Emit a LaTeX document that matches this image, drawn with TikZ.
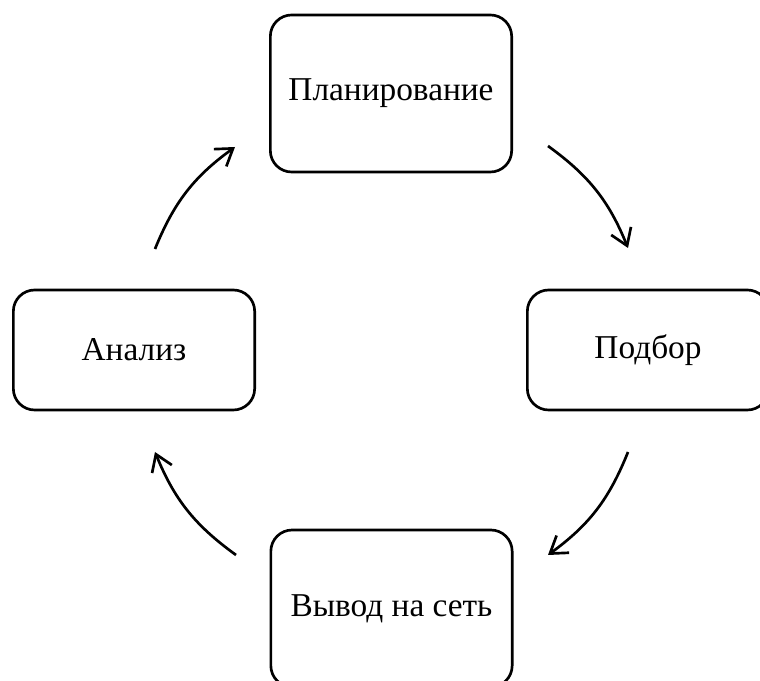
\documentclass[tikz,border=0pt]{standalone}
\usepackage{fontspec}
\setmainfont{Liberation Serif}
\usetikzlibrary{arrows.meta}
\tikzset{
  stage/.style={draw, line width=2pt, rounded corners=16pt, minimum width=181pt, font=\fontsize{25}{30}\selectfont},
  tall/.style={stage, minimum height=117.75pt},
  wide/.style={stage, minimum height=90pt},
  cyc/.style={line width=2pt, -{Straight Barb[length=12pt,width=16pt]}},
}
\begin{document}
\begin{tikzpicture}[x=0.75pt,y=0.75pt]
  \useasboundingbox (0,0) rectangle (760,681);
  \node[tall] (plan) at (391,587.5) {Планирование};
  \node[wide] (podbor) at (648,331) {Подбор};
  \node[tall] (vyvod) at (391.5,72.5) {Вывод на сеть};
  \node[wide] (analiz) at (134,331) {Анализ};
  \coordinate (a1) at (548,535);
  \coordinate (b1) at (628,433);
  \coordinate (a2) at (628,229);
  \coordinate (b2) at (548,126);
  \coordinate (a3) at (236,126);
  \coordinate (b3) at (155,229);
  \coordinate (a4) at (155,432);
  \coordinate (b4) at (235,534);
  \draw[cyc] (a1) to[bend left=16] (b1);
  \draw[cyc] (a2) to[bend left=16] (b2);
  \draw[cyc] (a3) to[bend left=16] (b3);
  \draw[cyc] (a4) to[bend left=16] (b4);
\end{tikzpicture}
\end{document}
